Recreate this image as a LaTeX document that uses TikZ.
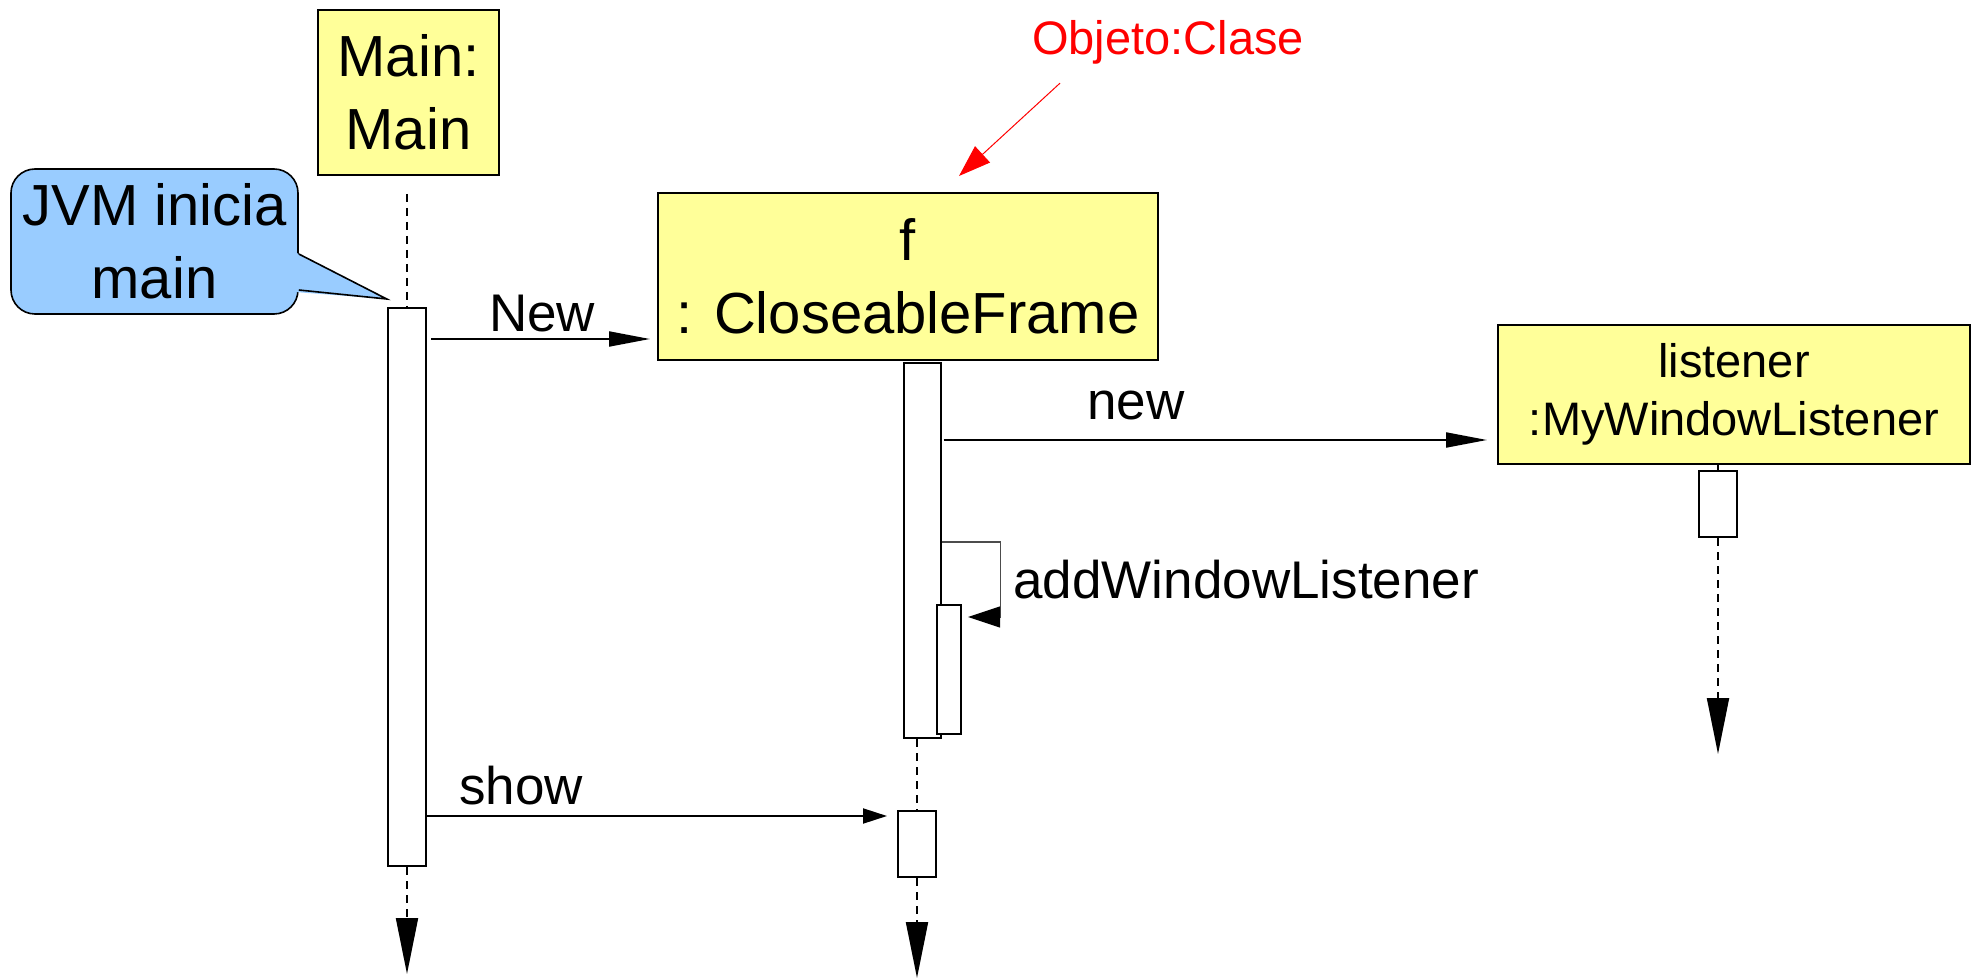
\documentclass[tikz,border=0pt]{standalone}
\usepackage{fontspec}
\setmainfont{Liberation Sans}
\usetikzlibrary{arrows.meta,positioning}

\definecolor{objYellow}{HTML}{FFFF99}
\definecolor{noteBlue}{HTML}{99CCFF}
\definecolor{noteRed}{HTML}{FF0000}

\newcommand{\bigTxt}{\fontsize{29pt}{36.5pt}\selectfont}
\newcommand{\msgTxt}{\fontsize{26.5pt}{32pt}\selectfont}
\newcommand{\smallTxt}{\fontsize{23.5pt}{29pt}\selectfont}

\tikzset{
  objBox/.style={draw, line width=1pt, fill=objYellow, align=center, inner sep=0pt},
  actBar/.style={draw, line width=1pt, fill=white, inner sep=0pt},
  lifeLine/.style={line width=1pt, dash pattern=on 4pt off 3pt},
  lifeEnd/.style={-{Triangle[length=28pt,width=11pt]}},
  msgArrow/.style={line width=1pt, -{Triangle[length=20.5pt,width=7.5pt]}},
  msgLabel/.style={font=\msgTxt, anchor=base, inner sep=0pt},
}

\begin{document}
\begin{tikzpicture}[x=0.5pt,y=-0.5pt]
  \useasboundingbox (0,0) rectangle (1976,978);
   %%%%%%%%%%%%%%%%% objects %%%%%%%%%%%%%%%%%%%
\node[objBox, font=\bigTxt, minimum width=90.5pt, minimum height=82.5pt]
   (main) at (408.5,92.5) {Main:\\Main};
\node[objBox, font=\bigTxt, minimum width=250pt, minimum height=83.5pt]
   (frame) at (908,276.5) {f\\: CloseableFrame};
\node[objBox, font=\smallTxt, minimum width=236pt, minimum height=69.5pt]
   (listener) at (1734,394.5) {listener\\:MyWindowListener};

% note above the frame object
\node[font=\smallTxt, text=noteRed, anchor=base, inner sep=0pt]
   (objNote) at (1168,55) {Objeto:Clase};
\draw[draw=noteRed, line width=0.5pt, -{Triangle[length=16pt,width=11pt]}]
   ([xshift=-54pt,yshift=-9pt]objNote.south) -- ([xshift=25.5pt,yshift=8pt]frame.north);

   %%%%%%%%%%%%%%%%% activation bars %%%%%%%%%%%%%%%%%%%
   %  name/x/y/width/height
\foreach \name/\x/\y/\w/\h in
    {actMain/407/587/19.25pt/279pt, actFrame/922.25/550.5/18.25pt/187.5pt,
     actNest/948.75/669.5/12.25pt/64.5pt, actShow/917/844/19pt/33pt,
     actList/1718/504/19pt/33pt}
  {\node[actBar, minimum width=\w, minimum height=\h] (\name) at (\x,\y) {};}

   %%%%%%%%%%%%%%%%% lifelines %%%%%%%%%%%%%%%%%%%
\draw[lifeLine] ([yshift=-9pt]main.south -| actMain.north) -- (actMain.north);
\draw[lifeLine] (actFrame.south -| actShow.north) -- (actShow.north);
\draw[lifeLine] (listener.south -| actList.north) -- (actList.north);
\foreach \bar/\len in {actMain/107, actShow/100, actList/216}
  {\draw[lifeLine, lifeEnd] (\bar.south) -- ++(0,\len);}

% callout JVM
\node[draw, line width=0.8pt, fill=noteBlue, rounded corners=12pt, align=center,
      font=\bigTxt, inner sep=0pt, minimum width=143.5pt, minimum height=72.5pt]
   (jvm) at (154.5,241.5) {JVM inicia\\main};
\fill[noteBlue] ([xshift=-2pt]jvm.east |- 0,252) -- ([yshift=4pt]actMain.north west)
   -- ([xshift=-2pt]jvm.east |- 0,292) -- cycle;
\draw[line width=0.8pt] (jvm.east |- 0,254) -- ([yshift=4pt]actMain.north west)
   -- (jvm.east |- 0,290);

   %%%%%%%%%%%%%%%%% messages %%%%%%%%%%%%%%%%%%%
\draw[msgArrow, shorten <=2pt, shorten >=3.5pt] (actMain.east |- 0,339)
   -- node[msgLabel, yshift=3.5pt] {New} (frame.west |- 0,339);
\draw[msgArrow, shorten <=1pt, shorten >=5pt] (actFrame.east |- 0,440)
   -- node[msgLabel, pos=.35, yshift=10pt] {new} (listener.west |- 0,440);
\draw[msgArrow, -{Triangle[length=12pt,width=7.5pt]}, shorten >=5pt] (actMain.east |- 0,816)
   -- node[msgLabel, pos=.2, yshift=6pt] {show} (actShow.west |- 0,816);

% self call
\draw[line width=0.6pt, draw=black!70, -{Triangle[length=16pt,width=10.5pt,color=black]}]
   (actFrame.east |- 0,542) -- ++(59,0) |- ([xshift=3pt]actNest.east |- 0,617);
\node[msgLabel, anchor=base west] (addLbl) at (1013,598) {addWindowListener};
\end{tikzpicture}
\end{document}
